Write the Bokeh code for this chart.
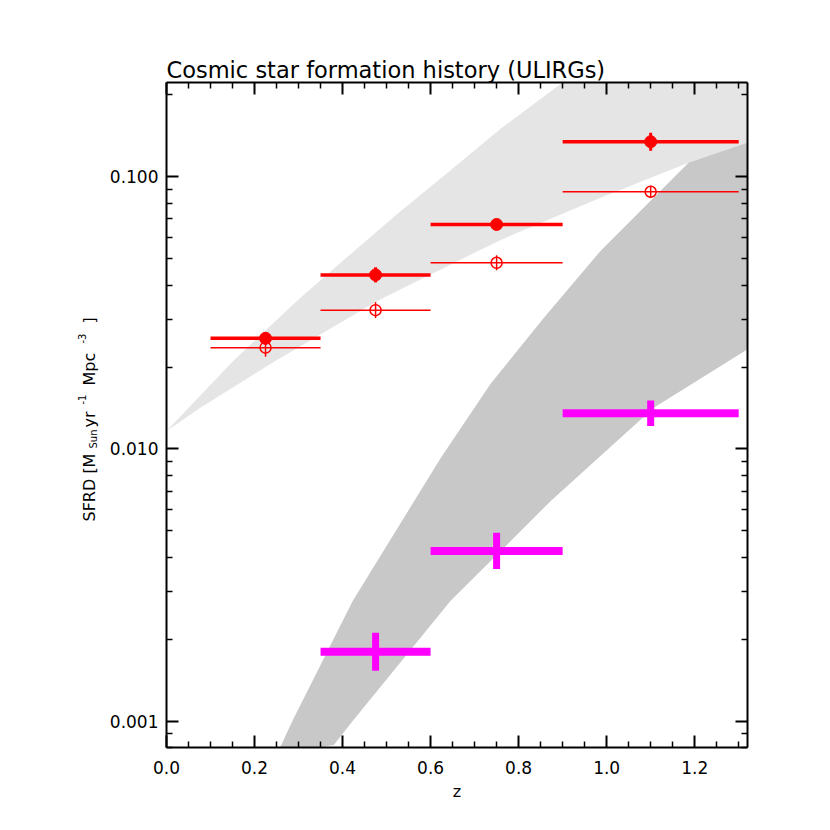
from math import pi
from bokeh.plotting import figure
from bokeh.layouts import row
from bokeh.models import (Range1d, FixedTicker, LinearAxis, LogAxis, Label,
                          ColumnDataSource, Plot)
from bokeh.embed import file_html
from bokeh.resources import INLINE

FONT = "DejaVu Sans"

TITLE = "Cosmic star formation history (ULIRGs)"
X_LABEL = "z"
Y_LABEL_PARTS = ["SFRD [M", "Sun", "yr", "-1", "Mpc", "-3", "]"]

X_TICKS = [0.0, 0.2, 0.4, 0.6, 0.8, 1.0, 1.2]
X_TICK_LABELS = ["0.0", "0.2", "0.4", "0.6", "0.8", "1.0", "1.2"]
X_MINOR = [0.05, 0.10, 0.15, 0.25, 0.30, 0.35, 0.45, 0.50, 0.55, 0.65, 0.70,
           0.75, 0.85, 0.90, 0.95, 1.05, 1.10, 1.15, 1.25, 1.30]
Y_TICKS = [0.001, 0.01, 0.1]
Y_TICK_LABELS = ["0.001", "0.010", "0.100"]
Y_MINOR = [0.0008, 0.0009, 0.002, 0.003, 0.004, 0.005, 0.006, 0.007, 0.008,
           0.009, 0.02, 0.03, 0.04, 0.05, 0.06, 0.07, 0.08, 0.09, 0.2]

# redshift bins
BIN_LO = [0.10, 0.35, 0.60, 0.90]
BIN_HI = [0.35, 0.60, 0.90, 1.30]
BIN_Z = [0.225, 0.475, 0.75, 1.10]

# filled red points (thick bars)
SFRD_FILLED = [0.0255, 0.0436, 0.0668, 0.1345]
SFRD_FILLED_LO = [0.0242, 0.0409, 0.0646, 0.1247]
SFRD_FILLED_HI = [0.0268, 0.0465, 0.0691, 0.1451]

# open red points (thin bars)
SFRD_OPEN = [0.02355, 0.03236, 0.0483, 0.0881]
SFRD_OPEN_LO = [0.02183, 0.03024, 0.04533, 0.08375]
SFRD_OPEN_HI = [0.02541, 0.03463, 0.05147, 0.09268]

# magenta crosses
MAG_LO = [0.35, 0.60, 0.90]
MAG_HI = [0.60, 0.90, 1.30]
MAG_Z = [0.475, 0.75, 1.10]
SFRD_MAG = [0.00180, 0.00422, 0.01352]
SFRD_MAG_LO = [0.00153, 0.00362, 0.01214]
SFRD_MAG_HI = [0.00211, 0.00492, 0.01505]

# light grey model band
LIGHT_UPPER_Z = [0.0, 0.152, 0.298, 0.400, 0.520, 0.640, 0.759, 0.900, 1.320]
LIGHT_UPPER_SFRD = [0.01164, 0.0211, 0.0352, 0.0490, 0.0720, 0.1040, 0.150, 0.222, 0.678]
LIGHT_LOWER_Z = [0.0, 0.077, 0.248, 0.480, 0.561, 0.759, 0.986, 1.186, 1.320]
LIGHT_LOWER_SFRD = [0.01164, 0.01416, 0.0211, 0.0350, 0.0407, 0.0586, 0.0837, 0.1125, 0.1334]

# dark grey model band
DARK_UPPER_Z = [0.252, 0.286, 0.423, 0.623, 0.736, 0.857, 0.986, 1.186, 1.320]
DARK_UPPER_SFRD = [0.000762, 0.00100, 0.00276, 0.00927, 0.01734, 0.0303, 0.0534, 0.1125, 0.175]
DARK_LOWER_Z = [0.380, 0.423, 0.645, 0.873, 1.107, 1.325]
DARK_LOWER_SFRD = [0.000817, 0.00100, 0.00276, 0.00644, 0.01416, 0.0235]

# ---------------------------------------------------------------- main plot
p = figure(frame_width=581, frame_height=665,
           x_range=Range1d(0.0, 1.32), y_range=Range1d(0.0008, 0.222),
           y_axis_type="log", output_backend="svg", toolbar_location=None,
           min_border_left=66, min_border_right=75, min_border_top=82,
           min_border_bottom=75, x_axis_location=None, y_axis_location=None)
p.xgrid.visible = False
p.ygrid.visible = False
p.outline_line_color = None
p.background_fill_color = "white"
p.border_fill_color = "white"

p.title.text = TITLE
p.title.align = "left"
p.title.text_font = FONT
p.title.text_font_size = "22.5px"
p.title.text_font_style = "normal"
p.title.text_color = "black"
p.title.standoff = 0
p.title.offset = 0


def style_axis(ax, show_labels):
    ax.axis_line_width = 2
    ax.axis_line_color = "black"
    ax.major_tick_in = 12
    ax.major_tick_out = 0
    ax.minor_tick_in = 6
    ax.minor_tick_out = 0
    ax.major_tick_line_width = 2
    ax.minor_tick_line_width = 1.5
    ax.major_tick_line_color = "black"
    ax.minor_tick_line_color = "black"
    ax.major_label_text_font = FONT
    if show_labels:
        ax.major_label_text_font_size = "17px"
        ax.major_label_text_color = "black"
    else:
        ax.major_label_text_font_size = "0px"
        ax.major_label_text_color = None
        ax.major_label_standoff = 0


xt = FixedTicker(ticks=X_TICKS, minor_ticks=X_MINOR)
yt = FixedTicker(ticks=Y_TICKS, minor_ticks=Y_MINOR)

xb = LinearAxis(ticker=xt, major_label_overrides=dict(zip(X_TICKS, X_TICK_LABELS)))
style_axis(xb, True)
xb.major_label_standoff = 13
xb.axis_label = X_LABEL
xb.axis_label_text_font = FONT
xb.axis_label_text_font_size = "16px"
xb.axis_label_text_font_style = "normal"
xb.axis_label_text_color = "black"
xb.axis_label_standoff = 5
p.add_layout(xb, "below")

xa = LinearAxis(ticker=xt)
style_axis(xa, False)
p.add_layout(xa, "above")

yl = LogAxis(ticker=yt, major_label_overrides=dict(zip(Y_TICKS, Y_TICK_LABELS)))
style_axis(yl, True)
yl.major_label_standoff = 8
p.add_layout(yl, "left")

yr = LogAxis(ticker=yt)
style_axis(yr, False)
p.add_layout(yr, "right")

# bands (light band lies on top of the dark one)
p.patch(DARK_UPPER_Z + DARK_LOWER_Z[::-1], DARK_UPPER_SFRD + DARK_LOWER_SFRD[::-1],
        fill_color="#c8c8c8", line_color=None)
p.patch(LIGHT_UPPER_Z + LIGHT_LOWER_Z[::-1], LIGHT_UPPER_SFRD + LIGHT_LOWER_SFRD[::-1],
        fill_color="#e5e5e5", line_color=None)

# magenta crosses
mag = ColumnDataSource(dict(lo=MAG_LO, hi=MAG_HI, z=MAG_Z, y=SFRD_MAG,
                            ylo=SFRD_MAG_LO, yhi=SFRD_MAG_HI))
p.segment(x0="lo", x1="hi", y0="y", y1="y", source=mag, line_color="#ff00ff",
          line_width=8, line_cap="butt")
p.segment(x0="z", x1="z", y0="ylo", y1="yhi", source=mag, line_color="#ff00ff",
          line_width=7, line_cap="butt")

# filled red
fil = ColumnDataSource(dict(lo=BIN_LO, hi=BIN_HI, z=BIN_Z, y=SFRD_FILLED,
                            ylo=SFRD_FILLED_LO, yhi=SFRD_FILLED_HI))
p.segment(x0="lo", x1="hi", y0="y", y1="y", source=fil, line_color="#ff0000",
          line_width=3.5, line_cap="butt")
p.segment(x0="z", x1="z", y0="ylo", y1="yhi", source=fil, line_color="#ff0000",
          line_width=3, line_cap="butt")
p.scatter(x="z", y="y", source=fil, marker="circle", size=12,
          fill_color="#ff0000", line_color="#ff0000")

# open red
opn = ColumnDataSource(dict(lo=BIN_LO, hi=BIN_HI, z=BIN_Z, y=SFRD_OPEN,
                            ylo=SFRD_OPEN_LO, yhi=SFRD_OPEN_HI))
p.segment(x0="lo", x1="hi", y0="y", y1="y", source=opn, line_color="#ff0000",
          line_width=1.5, line_cap="butt")
p.segment(x0="z", x1="z", y0="ylo", y1="yhi", source=opn, line_color="#ff0000",
          line_width=1.5, line_cap="butt")
p.scatter(x="z", y="y", source=opn, marker="circle", size=11,
          fill_color=None, line_color="#ff0000", line_width=1.5)

# ------------------------------------------- y-axis label panel (left strip)
# the strip's frame is aligned with the main frame (page y 82..747)
STRIP_W = 100
FRAME_BOTTOM = 747
lab = Plot(frame_width=STRIP_W, frame_height=665, min_border_left=0,
           min_border_right=0, min_border_top=82, min_border_bottom=75,
           x_range=Range1d(0, 1), y_range=Range1d(0, 1), title=None,
           toolbar_location=None, outline_line_color=None,
           output_backend="svg", background_fill_color="white",
           border_fill_color="white")

# page x of baseline, page y of text start, font size
Y_PIECE_X = [88.5, 92.5, 88.5, 81.0, 88.5, 81.0, 88.5]
Y_PIECE_Y = [521, 448, 427, 404, 385, 343, 323]
Y_PIECE_SIZE = ["16px", "10px", "16px", "10px", "16px", "10px", "16px"]
for t, xx, yy, fs in zip(Y_LABEL_PARTS, Y_PIECE_X, Y_PIECE_Y, Y_PIECE_SIZE):
    lab.add_layout(Label(x=xx, y=FRAME_BOTTOM - yy, x_units="screen",
                         y_units="screen", text=t, angle=pi / 2,
                         text_font=FONT, text_font_size=fs,
                         text_color="black", text_align="left",
                         text_baseline="alphabetic"))

layout = row(lab, p, spacing=0)
open("out.html", "w").write(file_html(layout, INLINE))
